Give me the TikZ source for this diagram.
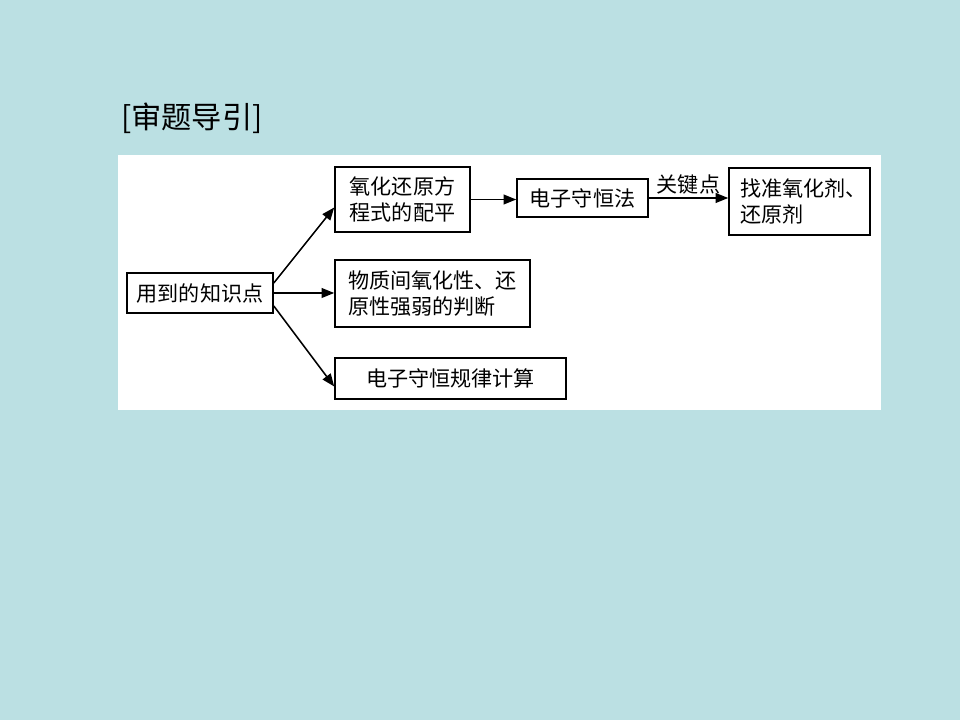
\documentclass[tikz,border=0pt]{standalone}
\usepackage{fontspec}
\setmainfont{Noto Sans CJK SC}
\usetikzlibrary{arrows.meta,positioning,calc}
\definecolor{pagebg}{RGB}{187,224,227}

\begin{document}
\begin{tikzpicture}[x=0.025cm,y=-0.025cm,
  box/.style={draw,line width=1.1pt,fill=white,align=left,inner sep=0pt,
    font=\fontsize{15}{18}\selectfont},
  arr/.style={line width=1.1pt,-{Triangle[length=9pt,width=7pt]}}]

% Background and panel
\fill[pagebg] (0,0) rectangle (960,720);
\fill[white] (118,155) rectangle (881,410);

% Title
\node[anchor=west,font=\fontsize{21.5}{24}\selectfont,inner sep=2pt] (title) at (118,118) {[审题导引]};

% Boxes
\node[box,minimum width=3.65cm,minimum height=1cm] (zsd) at (200,293) {用到的知识点};
\node[box,minimum width=3.375cm,minimum height=1.625cm] (peiping) at (402.5,199.5) {氧化还原方\\程式的配平};
\node[box,minimum width=4.875cm,minimum height=1.675cm] (qiangruo) at (432.5,293.5) {物质间氧化性、还\\原性强弱的判断};
\node[box,minimum width=5.775cm,minimum height=1.025cm] (jisuan) at (450.5,378.5) {电子守恒规律计算};
\node[box,minimum width=3.275cm,minimum height=0.95cm] (shouheng) at (582.5,198) {电子守恒法};
\node[box,minimum width=3.525cm,minimum height=1.675cm] (zhaozhun) at (799.5,201.5) {\hspace*{0.2cm}找准氧化剂、\\\hspace*{0.2cm}还原剂};

% Arrows
\draw[arr] ($(zsd.east)+(0,-10)$) -- ($(peiping.west)+(0,8)$);
\draw[arr] (zsd.east) -- (zsd.east -| qiangruo.west);
\draw[arr] ($(zsd.east)+(0,13)$) -- ($(jisuan.west)+(0,8)$);
\draw[arr] (peiping.east) -- (peiping.east -| shouheng.west);
\draw[arr] (shouheng.east) -- (shouheng.east -| zhaozhun.west)
  node[midway,above,font=\fontsize{15}{18}\selectfont,inner sep=2pt] (guanjian) {关键点};

\end{tikzpicture}
\end{document}
